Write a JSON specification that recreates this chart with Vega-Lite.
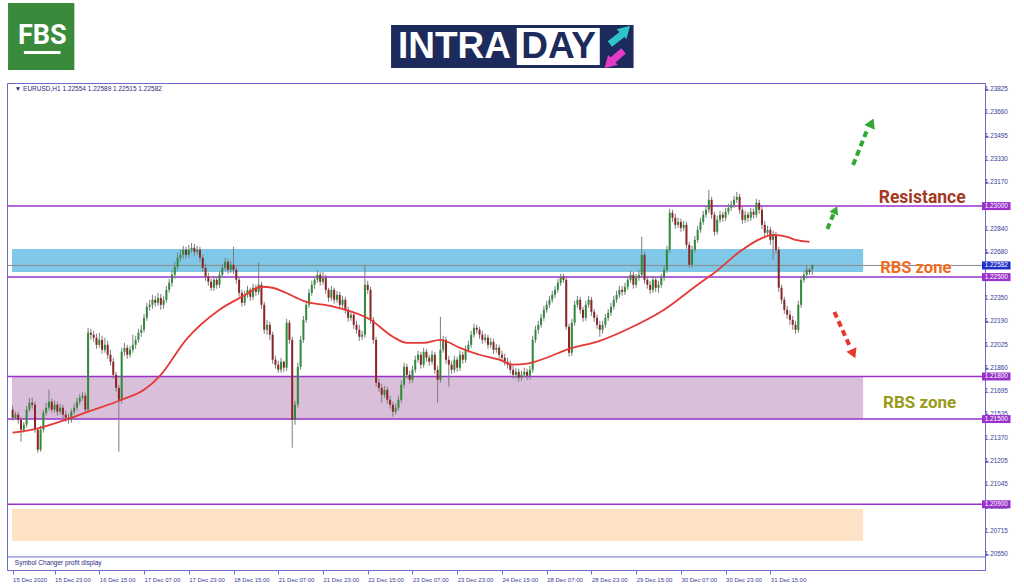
{
"$schema":"https://vega.github.io/schema/vega-lite/v6.json",
"width":978,"height":487,
"autosize":{"type":"none"},
"padding":{"left":7,"top":83,"right":39,"bottom":17},
"background":"#ffffff",
"config":{"view":{"stroke":"#6b6bd0","strokeWidth":1},"axis":{"grid":false}},
"datasets":{
"bars":[
{"i":1,"o":1.21566,"h":1.21594,"l":1.21488,"c":1.2151},
{"i":2,"o":1.2151,"h":1.21552,"l":1.21495,"c":1.21531},
{"i":3,"o":1.21531,"h":1.21552,"l":1.21467,"c":1.21495},
{"i":4,"o":1.21495,"h":1.21517,"l":1.2134,"c":1.21425},
{"i":5,"o":1.21425,"h":1.21481,"l":1.21404,"c":1.2146},
{"i":6,"o":1.2146,"h":1.21594,"l":1.21439,"c":1.21566},
{"i":7,"o":1.21566,"h":1.2165,"l":1.21552,"c":1.21615},
{"i":8,"o":1.21615,"h":1.2165,"l":1.21573,"c":1.21601},
{"i":9,"o":1.21601,"h":1.21622,"l":1.21404,"c":1.21425},
{"i":10,"o":1.21425,"h":1.21439,"l":1.21263,"c":1.21284},
{"i":11,"o":1.21284,"h":1.21453,"l":1.2127,"c":1.21425},
{"i":12,"o":1.21425,"h":1.21566,"l":1.21404,"c":1.21545},
{"i":13,"o":1.21545,"h":1.21615,"l":1.21524,"c":1.2158},
{"i":14,"o":1.2158,"h":1.21706,"l":1.21559,"c":1.21622},
{"i":15,"o":1.21622,"h":1.21643,"l":1.21545,"c":1.21566},
{"i":16,"o":1.21566,"h":1.21629,"l":1.21545,"c":1.21601},
{"i":17,"o":1.21601,"h":1.21622,"l":1.21524,"c":1.21552},
{"i":18,"o":1.21552,"h":1.21608,"l":1.21531,"c":1.2158},
{"i":19,"o":1.2158,"h":1.21601,"l":1.21503,"c":1.21531},
{"i":20,"o":1.21531,"h":1.21559,"l":1.21481,"c":1.2151},
{"i":21,"o":1.2151,"h":1.21538,"l":1.21467,"c":1.21495},
{"i":22,"o":1.21495,"h":1.21573,"l":1.21474,"c":1.21552},
{"i":23,"o":1.21552,"h":1.21608,"l":1.21531,"c":1.2158},
{"i":24,"o":1.2158,"h":1.2165,"l":1.21559,"c":1.21622},
{"i":25,"o":1.21622,"h":1.21678,"l":1.21601,"c":1.2165},
{"i":26,"o":1.2165,"h":1.21692,"l":1.21629,"c":1.21664},
{"i":27,"o":1.21664,"h":1.21685,"l":1.21545,"c":1.21566},
{"i":28,"o":1.21566,"h":1.22143,"l":1.21545,"c":1.22108},
{"i":29,"o":1.22108,"h":1.22136,"l":1.22058,"c":1.22094},
{"i":30,"o":1.22094,"h":1.22122,"l":1.22044,"c":1.22073},
{"i":31,"o":1.22073,"h":1.22101,"l":1.21995,"c":1.22023},
{"i":32,"o":1.22023,"h":1.22108,"l":1.22002,"c":1.22058},
{"i":33,"o":1.22058,"h":1.22087,"l":1.2196,"c":1.21988},
{"i":34,"o":1.21988,"h":1.22073,"l":1.21967,"c":1.22023},
{"i":35,"o":1.22023,"h":1.22051,"l":1.21925,"c":1.21953},
{"i":36,"o":1.21953,"h":1.21988,"l":1.21876,"c":1.21904},
{"i":37,"o":1.21904,"h":1.21932,"l":1.21784,"c":1.21812},
{"i":38,"o":1.21812,"h":1.21833,"l":1.21692,"c":1.2172},
{"i":39,"o":1.2172,"h":1.21741,"l":1.2127,"c":1.21636},
{"i":40,"o":1.21636,"h":1.22002,"l":1.21608,"c":1.21974},
{"i":41,"o":1.21974,"h":1.22037,"l":1.21946,"c":1.22002},
{"i":42,"o":1.22002,"h":1.22023,"l":1.21925,"c":1.21953},
{"i":43,"o":1.21953,"h":1.22016,"l":1.21932,"c":1.21988},
{"i":44,"o":1.21988,"h":1.22094,"l":1.21967,"c":1.22023},
{"i":45,"o":1.22023,"h":1.22087,"l":1.21995,"c":1.22058},
{"i":46,"o":1.22058,"h":1.22136,"l":1.22037,"c":1.22108},
{"i":47,"o":1.22108,"h":1.22164,"l":1.2208,"c":1.22129},
{"i":48,"o":1.22129,"h":1.22241,"l":1.22108,"c":1.22213},
{"i":49,"o":1.22213,"h":1.22319,"l":1.22192,"c":1.22291},
{"i":50,"o":1.22291,"h":1.2234,"l":1.22263,"c":1.22305},
{"i":51,"o":1.22305,"h":1.22375,"l":1.22277,"c":1.2234},
{"i":52,"o":1.2234,"h":1.22368,"l":1.22291,"c":1.22319},
{"i":53,"o":1.22319,"h":1.22389,"l":1.22298,"c":1.22354},
{"i":54,"o":1.22354,"h":1.22382,"l":1.2227,"c":1.22305},
{"i":55,"o":1.22305,"h":1.22368,"l":1.22277,"c":1.2234},
{"i":56,"o":1.2234,"h":1.22438,"l":1.22319,"c":1.2241},
{"i":57,"o":1.2241,"h":1.22488,"l":1.22389,"c":1.2246},
{"i":58,"o":1.2246,"h":1.22551,"l":1.22432,"c":1.22516},
{"i":59,"o":1.22516,"h":1.22608,"l":1.22488,"c":1.22572},
{"i":60,"o":1.22572,"h":1.22671,"l":1.22551,"c":1.22636},
{"i":61,"o":1.22636,"h":1.22692,"l":1.22608,"c":1.22657},
{"i":62,"o":1.22657,"h":1.2272,"l":1.22629,"c":1.22692},
{"i":63,"o":1.22692,"h":1.22713,"l":1.22629,"c":1.22657},
{"i":64,"o":1.22657,"h":1.22727,"l":1.22636,"c":1.22692},
{"i":65,"o":1.22692,"h":1.22741,"l":1.22671,"c":1.22706},
{"i":66,"o":1.22706,"h":1.22734,"l":1.2265,"c":1.22678},
{"i":67,"o":1.22678,"h":1.2272,"l":1.22657,"c":1.22692},
{"i":68,"o":1.22692,"h":1.22713,"l":1.22608,"c":1.22636},
{"i":69,"o":1.22636,"h":1.22657,"l":1.22537,"c":1.22565},
{"i":70,"o":1.22565,"h":1.22594,"l":1.22474,"c":1.22502},
{"i":71,"o":1.22502,"h":1.2253,"l":1.22439,"c":1.22467},
{"i":72,"o":1.22467,"h":1.22488,"l":1.22403,"c":1.22425},
{"i":73,"o":1.22425,"h":1.22509,"l":1.22403,"c":1.22481},
{"i":74,"o":1.22481,"h":1.22502,"l":1.22418,"c":1.22446},
{"i":75,"o":1.22446,"h":1.22544,"l":1.22425,"c":1.22516},
{"i":76,"o":1.22516,"h":1.22594,"l":1.22495,"c":1.22565},
{"i":77,"o":1.22565,"h":1.22636,"l":1.22544,"c":1.22608},
{"i":78,"o":1.22608,"h":1.22629,"l":1.22523,"c":1.22551},
{"i":79,"o":1.22551,"h":1.22615,"l":1.2253,"c":1.22587},
{"i":80,"o":1.22587,"h":1.22713,"l":1.22523,"c":1.22551},
{"i":81,"o":1.22551,"h":1.22572,"l":1.22453,"c":1.22481},
{"i":82,"o":1.22481,"h":1.22502,"l":1.22361,"c":1.22389},
{"i":83,"o":1.22389,"h":1.2241,"l":1.22291,"c":1.22319},
{"i":84,"o":1.22319,"h":1.22403,"l":1.22298,"c":1.22375},
{"i":85,"o":1.22375,"h":1.22438,"l":1.22354,"c":1.2241},
{"i":86,"o":1.2241,"h":1.22425,"l":1.22333,"c":1.22361},
{"i":87,"o":1.22361,"h":1.22453,"l":1.2234,"c":1.22425},
{"i":88,"o":1.22425,"h":1.22446,"l":1.22368,"c":1.22396},
{"i":89,"o":1.22396,"h":1.22601,"l":1.22375,"c":1.22446},
{"i":90,"o":1.22446,"h":1.22467,"l":1.22277,"c":1.22305},
{"i":91,"o":1.22305,"h":1.22326,"l":1.22101,"c":1.22129},
{"i":92,"o":1.22129,"h":1.22199,"l":1.22094,"c":1.22164},
{"i":93,"o":1.22164,"h":1.22185,"l":1.22058,"c":1.22094},
{"i":94,"o":1.22094,"h":1.22115,"l":1.2189,"c":1.21918},
{"i":95,"o":1.21918,"h":1.21946,"l":1.21855,"c":1.21883},
{"i":96,"o":1.21883,"h":1.21911,"l":1.21826,"c":1.21847},
{"i":97,"o":1.21847,"h":1.21932,"l":1.21826,"c":1.21904},
{"i":98,"o":1.21904,"h":1.21911,"l":1.21833,"c":1.21862},
{"i":99,"o":1.21862,"h":1.22206,"l":1.2184,"c":1.22178},
{"i":100,"o":1.22178,"h":1.22199,"l":1.2203,"c":1.22058},
{"i":101,"o":1.22058,"h":1.2208,"l":1.21298,"c":1.21495},
{"i":102,"o":1.21495,"h":1.21629,"l":1.2146,"c":1.21601},
{"i":103,"o":1.21601,"h":1.21897,"l":1.2158,"c":1.21868},
{"i":104,"o":1.21868,"h":1.22087,"l":1.21847,"c":1.22058},
{"i":105,"o":1.22058,"h":1.22227,"l":1.22037,"c":1.22199},
{"i":106,"o":1.22199,"h":1.22333,"l":1.22178,"c":1.22305},
{"i":107,"o":1.22305,"h":1.22417,"l":1.22284,"c":1.22389},
{"i":108,"o":1.22389,"h":1.22474,"l":1.22368,"c":1.22446},
{"i":109,"o":1.22446,"h":1.22509,"l":1.22418,"c":1.22481},
{"i":110,"o":1.22481,"h":1.22551,"l":1.2246,"c":1.22516},
{"i":111,"o":1.22516,"h":1.22537,"l":1.22439,"c":1.22467},
{"i":112,"o":1.22467,"h":1.22537,"l":1.22446,"c":1.22495},
{"i":113,"o":1.22495,"h":1.22516,"l":1.22382,"c":1.2241},
{"i":114,"o":1.2241,"h":1.22425,"l":1.22326,"c":1.22354},
{"i":115,"o":1.22354,"h":1.22438,"l":1.22333,"c":1.2241},
{"i":116,"o":1.2241,"h":1.22425,"l":1.22312,"c":1.2234},
{"i":117,"o":1.2234,"h":1.22403,"l":1.22319,"c":1.22375},
{"i":118,"o":1.22375,"h":1.22396,"l":1.22277,"c":1.22305},
{"i":119,"o":1.22305,"h":1.22368,"l":1.22284,"c":1.2234},
{"i":120,"o":1.2234,"h":1.22361,"l":1.22242,"c":1.2227},
{"i":121,"o":1.2227,"h":1.22291,"l":1.22185,"c":1.22213},
{"i":122,"o":1.22213,"h":1.22263,"l":1.22192,"c":1.22235},
{"i":123,"o":1.22235,"h":1.22256,"l":1.22136,"c":1.22164},
{"i":124,"o":1.22164,"h":1.22192,"l":1.22101,"c":1.22129},
{"i":125,"o":1.22129,"h":1.22164,"l":1.22051,"c":1.2208},
{"i":126,"o":1.2208,"h":1.22122,"l":1.22058,"c":1.22094},
{"i":127,"o":1.22094,"h":1.22587,"l":1.22073,"c":1.22446},
{"i":128,"o":1.22446,"h":1.22474,"l":1.22382,"c":1.2241},
{"i":129,"o":1.2241,"h":1.22431,"l":1.22171,"c":1.22199},
{"i":130,"o":1.22199,"h":1.2222,"l":1.2203,"c":1.22058},
{"i":131,"o":1.22058,"h":1.2208,"l":1.21728,"c":1.21756},
{"i":132,"o":1.21756,"h":1.21784,"l":1.21692,"c":1.2172},
{"i":133,"o":1.2172,"h":1.21748,"l":1.21615,"c":1.21671},
{"i":134,"o":1.21671,"h":1.21734,"l":1.2165,"c":1.21706},
{"i":135,"o":1.21706,"h":1.21727,"l":1.21608,"c":1.21636},
{"i":136,"o":1.21636,"h":1.21664,"l":1.21573,"c":1.21601},
{"i":137,"o":1.21601,"h":1.21622,"l":1.21517,"c":1.21552},
{"i":138,"o":1.21552,"h":1.21608,"l":1.21531,"c":1.2158},
{"i":139,"o":1.2158,"h":1.21664,"l":1.21559,"c":1.21636},
{"i":140,"o":1.21636,"h":1.2177,"l":1.21615,"c":1.21742},
{"i":141,"o":1.21742,"h":1.21897,"l":1.2172,"c":1.21868},
{"i":142,"o":1.21868,"h":1.2189,"l":1.21784,"c":1.21812},
{"i":143,"o":1.21812,"h":1.2184,"l":1.21749,"c":1.21777},
{"i":144,"o":1.21777,"h":1.21876,"l":1.21756,"c":1.21847},
{"i":145,"o":1.21847,"h":1.21946,"l":1.21826,"c":1.21918},
{"i":146,"o":1.21918,"h":1.21981,"l":1.21897,"c":1.21953},
{"i":147,"o":1.21953,"h":1.21974,"l":1.21855,"c":1.21883},
{"i":148,"o":1.21883,"h":1.22002,"l":1.21862,"c":1.21974},
{"i":149,"o":1.21974,"h":1.21995,"l":1.21904,"c":1.21932},
{"i":150,"o":1.21932,"h":1.21953,"l":1.21876,"c":1.21904},
{"i":151,"o":1.21904,"h":1.21981,"l":1.21883,"c":1.21953},
{"i":152,"o":1.21953,"h":1.21974,"l":1.21819,"c":1.21847},
{"i":153,"o":1.21847,"h":1.21876,"l":1.21615,"c":1.21777},
{"i":154,"o":1.21777,"h":1.2222,"l":1.21756,"c":1.21988},
{"i":155,"o":1.21988,"h":1.22087,"l":1.21967,"c":1.22058},
{"i":156,"o":1.22058,"h":1.2208,"l":1.2189,"c":1.21918},
{"i":157,"o":1.21918,"h":1.21946,"l":1.21728,"c":1.21883},
{"i":158,"o":1.21883,"h":1.21911,"l":1.21819,"c":1.21847},
{"i":159,"o":1.21847,"h":1.21946,"l":1.21826,"c":1.21918},
{"i":160,"o":1.21918,"h":1.21939,"l":1.21833,"c":1.21862},
{"i":161,"o":1.21862,"h":1.21981,"l":1.2184,"c":1.21953},
{"i":162,"o":1.21953,"h":1.21974,"l":1.2189,"c":1.21918},
{"i":163,"o":1.21918,"h":1.22016,"l":1.21897,"c":1.21988},
{"i":164,"o":1.21988,"h":1.22051,"l":1.21967,"c":1.22023},
{"i":165,"o":1.22023,"h":1.22122,"l":1.22002,"c":1.22094},
{"i":166,"o":1.22094,"h":1.22171,"l":1.22073,"c":1.22143},
{"i":167,"o":1.22143,"h":1.22164,"l":1.22101,"c":1.22129},
{"i":168,"o":1.22129,"h":1.2215,"l":1.22065,"c":1.22094},
{"i":169,"o":1.22094,"h":1.22122,"l":1.2203,"c":1.22058},
{"i":170,"o":1.22058,"h":1.22101,"l":1.22037,"c":1.22073},
{"i":171,"o":1.22073,"h":1.22094,"l":1.21995,"c":1.22023},
{"i":172,"o":1.22023,"h":1.22073,"l":1.22002,"c":1.22044},
{"i":173,"o":1.22044,"h":1.22065,"l":1.2196,"c":1.21988},
{"i":174,"o":1.21988,"h":1.2203,"l":1.21967,"c":1.22002},
{"i":175,"o":1.22002,"h":1.22023,"l":1.21925,"c":1.21953},
{"i":176,"o":1.21953,"h":1.21981,"l":1.21904,"c":1.21932},
{"i":177,"o":1.21932,"h":1.2196,"l":1.21876,"c":1.21904},
{"i":178,"o":1.21904,"h":1.21932,"l":1.21855,"c":1.21883},
{"i":179,"o":1.21883,"h":1.21911,"l":1.21819,"c":1.21847},
{"i":180,"o":1.21847,"h":1.21876,"l":1.21784,"c":1.21812},
{"i":181,"o":1.21812,"h":1.21862,"l":1.21784,"c":1.21833},
{"i":182,"o":1.21833,"h":1.21855,"l":1.21763,"c":1.21791},
{"i":183,"o":1.21791,"h":1.2184,"l":1.2177,"c":1.21812},
{"i":184,"o":1.21812,"h":1.21862,"l":1.21791,"c":1.21833},
{"i":185,"o":1.21833,"h":1.21855,"l":1.21777,"c":1.21805},
{"i":186,"o":1.21805,"h":1.21876,"l":1.21777,"c":1.21847},
{"i":187,"o":1.21847,"h":1.22087,"l":1.21826,"c":1.22058},
{"i":188,"o":1.22058,"h":1.22157,"l":1.22037,"c":1.22129},
{"i":189,"o":1.22129,"h":1.22192,"l":1.22101,"c":1.22164},
{"i":190,"o":1.22164,"h":1.22241,"l":1.22143,"c":1.22213},
{"i":191,"o":1.22213,"h":1.22298,"l":1.22192,"c":1.2227},
{"i":192,"o":1.2227,"h":1.22333,"l":1.22249,"c":1.22305},
{"i":193,"o":1.22305,"h":1.22368,"l":1.22284,"c":1.2234},
{"i":194,"o":1.2234,"h":1.22403,"l":1.22319,"c":1.22375},
{"i":195,"o":1.22375,"h":1.22438,"l":1.22354,"c":1.2241},
{"i":196,"o":1.2241,"h":1.22488,"l":1.22389,"c":1.2246},
{"i":197,"o":1.2246,"h":1.22523,"l":1.22439,"c":1.22502},
{"i":198,"o":1.22502,"h":1.22523,"l":1.2246,"c":1.22481},
{"i":199,"o":1.22481,"h":1.22502,"l":1.22129,"c":1.2215},
{"i":200,"o":1.2215,"h":1.22171,"l":1.21939,"c":1.21967},
{"i":201,"o":1.21967,"h":1.22206,"l":1.21946,"c":1.22178},
{"i":202,"o":1.22178,"h":1.22333,"l":1.22157,"c":1.22305},
{"i":203,"o":1.22305,"h":1.22368,"l":1.22284,"c":1.2234},
{"i":204,"o":1.2234,"h":1.22361,"l":1.22242,"c":1.2227},
{"i":205,"o":1.2227,"h":1.22291,"l":1.22185,"c":1.22213},
{"i":206,"o":1.22213,"h":1.22333,"l":1.22192,"c":1.22305},
{"i":207,"o":1.22305,"h":1.22368,"l":1.22284,"c":1.2234},
{"i":208,"o":1.2234,"h":1.22361,"l":1.22227,"c":1.22256},
{"i":209,"o":1.22256,"h":1.22277,"l":1.22185,"c":1.22213},
{"i":210,"o":1.22213,"h":1.22235,"l":1.22136,"c":1.22164},
{"i":211,"o":1.22164,"h":1.22192,"l":1.2208,"c":1.22129},
{"i":212,"o":1.22129,"h":1.22192,"l":1.22101,"c":1.22164},
{"i":213,"o":1.22164,"h":1.22241,"l":1.22143,"c":1.22213},
{"i":214,"o":1.22213,"h":1.22277,"l":1.22192,"c":1.22249},
{"i":215,"o":1.22249,"h":1.22319,"l":1.22227,"c":1.22291},
{"i":216,"o":1.22291,"h":1.22368,"l":1.2227,"c":1.2234},
{"i":217,"o":1.2234,"h":1.22403,"l":1.22319,"c":1.22375},
{"i":218,"o":1.22375,"h":1.22438,"l":1.22354,"c":1.2241},
{"i":219,"o":1.2241,"h":1.22438,"l":1.22368,"c":1.22396},
{"i":220,"o":1.22396,"h":1.2246,"l":1.22375,"c":1.22431},
{"i":221,"o":1.22431,"h":1.22509,"l":1.2241,"c":1.22481},
{"i":222,"o":1.22481,"h":1.22544,"l":1.2246,"c":1.22516},
{"i":223,"o":1.22516,"h":1.22537,"l":1.22418,"c":1.22446},
{"i":224,"o":1.22446,"h":1.22523,"l":1.22425,"c":1.22495},
{"i":225,"o":1.22495,"h":1.22551,"l":1.22474,"c":1.22516},
{"i":226,"o":1.22516,"h":1.22783,"l":1.22495,"c":1.22657},
{"i":227,"o":1.22657,"h":1.22678,"l":1.22453,"c":1.22481},
{"i":228,"o":1.22481,"h":1.22509,"l":1.22418,"c":1.22446},
{"i":229,"o":1.22446,"h":1.22474,"l":1.22382,"c":1.2241},
{"i":230,"o":1.2241,"h":1.22509,"l":1.22389,"c":1.22481},
{"i":231,"o":1.22481,"h":1.22502,"l":1.22396,"c":1.22425},
{"i":232,"o":1.22425,"h":1.22474,"l":1.22389,"c":1.22446},
{"i":233,"o":1.22446,"h":1.22523,"l":1.22425,"c":1.22495},
{"i":234,"o":1.22495,"h":1.22579,"l":1.22474,"c":1.22551},
{"i":235,"o":1.22551,"h":1.2272,"l":1.2253,"c":1.22692},
{"i":236,"o":1.22692,"h":1.22981,"l":1.22671,"c":1.22953},
{"i":237,"o":1.22953,"h":1.22974,"l":1.22889,"c":1.22918},
{"i":238,"o":1.22918,"h":1.22946,"l":1.2284,"c":1.22868},
{"i":239,"o":1.22868,"h":1.22918,"l":1.22847,"c":1.22889},
{"i":240,"o":1.22889,"h":1.22911,"l":1.22819,"c":1.22847},
{"i":241,"o":1.22847,"h":1.22896,"l":1.22826,"c":1.22868},
{"i":242,"o":1.22868,"h":1.22889,"l":1.22699,"c":1.22727},
{"i":243,"o":1.22727,"h":1.22748,"l":1.22565,"c":1.22587},
{"i":244,"o":1.22587,"h":1.2272,"l":1.22565,"c":1.22692},
{"i":245,"o":1.22692,"h":1.2279,"l":1.22671,"c":1.22762},
{"i":246,"o":1.22762,"h":1.22861,"l":1.22741,"c":1.22833},
{"i":247,"o":1.22833,"h":1.22918,"l":1.22812,"c":1.22889},
{"i":248,"o":1.22889,"h":1.22967,"l":1.22868,"c":1.22939},
{"i":249,"o":1.22939,"h":1.23002,"l":1.22918,"c":1.22974},
{"i":250,"o":1.22974,"h":1.23114,"l":1.22953,"c":1.23044},
{"i":251,"o":1.23044,"h":1.23065,"l":1.22911,"c":1.22939},
{"i":252,"o":1.22939,"h":1.2296,"l":1.22791,"c":1.22819},
{"i":253,"o":1.22819,"h":1.22932,"l":1.22798,"c":1.22903},
{"i":254,"o":1.22903,"h":1.22967,"l":1.22882,"c":1.22939},
{"i":255,"o":1.22939,"h":1.2296,"l":1.22889,"c":1.22918},
{"i":256,"o":1.22918,"h":1.22988,"l":1.22896,"c":1.2296},
{"i":257,"o":1.2296,"h":1.23016,"l":1.22939,"c":1.22988},
{"i":258,"o":1.22988,"h":1.23037,"l":1.22967,"c":1.23009},
{"i":259,"o":1.23009,"h":1.23072,"l":1.22988,"c":1.23044},
{"i":260,"o":1.23044,"h":1.231,"l":1.23023,"c":1.23065},
{"i":261,"o":1.23065,"h":1.23086,"l":1.22946,"c":1.22974},
{"i":262,"o":1.22974,"h":1.22995,"l":1.22875,"c":1.22903},
{"i":263,"o":1.22903,"h":1.22967,"l":1.22882,"c":1.22939},
{"i":264,"o":1.22939,"h":1.2296,"l":1.22889,"c":1.22918},
{"i":265,"o":1.22918,"h":1.22988,"l":1.22896,"c":1.2296},
{"i":266,"o":1.2296,"h":1.22981,"l":1.22911,"c":1.22939},
{"i":267,"o":1.22939,"h":1.23051,"l":1.22918,"c":1.23023},
{"i":268,"o":1.23023,"h":1.23044,"l":1.22946,"c":1.22974},
{"i":269,"o":1.22974,"h":1.22995,"l":1.2284,"c":1.22868},
{"i":270,"o":1.22868,"h":1.22896,"l":1.22784,"c":1.22812},
{"i":271,"o":1.22812,"h":1.22861,"l":1.22791,"c":1.22833},
{"i":272,"o":1.22833,"h":1.22854,"l":1.22727,"c":1.22762},
{"i":273,"o":1.22762,"h":1.22826,"l":1.22622,"c":1.22798},
{"i":274,"o":1.22798,"h":1.22819,"l":1.22664,"c":1.22692},
{"i":275,"o":1.22692,"h":1.22713,"l":1.22396,"c":1.22425},
{"i":276,"o":1.22425,"h":1.22446,"l":1.22312,"c":1.2234},
{"i":277,"o":1.2234,"h":1.22361,"l":1.22242,"c":1.2227},
{"i":278,"o":1.2227,"h":1.22298,"l":1.22206,"c":1.22235},
{"i":279,"o":1.22235,"h":1.22263,"l":1.22164,"c":1.22199},
{"i":280,"o":1.22199,"h":1.22227,"l":1.22129,"c":1.22164},
{"i":281,"o":1.22164,"h":1.22192,"l":1.22101,"c":1.22129},
{"i":282,"o":1.22129,"h":1.22333,"l":1.22108,"c":1.22305},
{"i":283,"o":1.22305,"h":1.22509,"l":1.22284,"c":1.22481},
{"i":284,"o":1.22481,"h":1.22544,"l":1.2246,"c":1.22516},
{"i":285,"o":1.22516,"h":1.22579,"l":1.22488,"c":1.22551},
{"i":286,"o":1.22551,"h":1.22565,"l":1.22516,"c":1.22537},
{"i":287,"o":1.22554,"h":1.22589,"l":1.22515,"c":1.22582}
],
"ma":[{"i":1,"v":1.21404},{"i":8,"v":1.21425},{"i":20,"v":1.21495},{"i":28,"v":1.21552},{"i":40,"v":1.21636},{"i":48,"v":1.21706},{"i":54,"v":1.21812},{"i":63,"v":1.22058},{"i":75,"v":1.2227},{"i":83,"v":1.22361},{"i":90,"v":1.22432},{"i":94,"v":1.22425},{"i":98,"v":1.22396},{"i":105,"v":1.22333},{"i":116,"v":1.22291},{"i":129,"v":1.22199},{"i":137,"v":1.2208},{"i":142,"v":1.22037},{"i":148,"v":1.22037},{"i":154,"v":1.22058},{"i":161,"v":1.22002},{"i":168,"v":1.21953},{"i":175,"v":1.21918},{"i":180,"v":1.21883},{"i":185,"v":1.2189},{"i":192,"v":1.21932},{"i":199,"v":1.21988},{"i":211,"v":1.22051},{"i":222,"v":1.22143},{"i":234,"v":1.2227},{"i":246,"v":1.22446},{"i":252,"v":1.2253},{"i":261,"v":1.22678},{"i":267,"v":1.22755},{"i":273,"v":1.22798},{"i":278,"v":1.22783},{"i":281,"v":1.22762},{"i":286,"v":1.22748}],
"levels":[{"p":1.23},{"p":1.225},{"p":1.218},{"p":1.215},{"p":1.209}],
"yl":[{"v":1.23825},{"v":1.2366},{"v":1.23495},{"v":1.2333},{"v":1.2317},{"v":1.2284},{"v":1.2268},{"v":1.2235},{"v":1.2219},{"v":1.22025},{"v":1.2186},{"v":1.21695},{"v":1.21535},{"v":1.2137},{"v":1.21205},{"v":1.21045},{"v":1.2088},{"v":1.20715},{"v":1.2055}],
"tags":[{"p":1.23,"t":"1.23000","k":"l"},{"p":1.225,"t":"1.22500","k":"l"},{"p":1.218,"t":"1.21800","k":"l"},{"p":1.215,"t":"1.21500","k":"l"},{"p":1.209,"t":"1.20900","k":"l"},{"p":1.22582,"t":"1.22582","k":"c"}]
},
"layer":[
{"data":{"values":[{}]},"mark":{"type":"rect","color":"#fde2c6"},
 "encoding":{
  "x":{"datum":0.78,"type":"quantitative","scale":{"domain":[0.78,346.98],"nice":false,"zero":false},
   "axis":{"title":null,"orient":"bottom","values":[1,16,32,48,64,80,96,112,128,144,160,176,192,208,224,240,256,272],
   "labelExpr":"['15 Dec 2020','15 Dec 23:00','16 Dec 15:00','17 Dec 07:00','17 Dec 23:00','18 Dec 15:00','21 Dec 07:00','21 Dec 23:00','22 Dec 15:00','23 Dec 07:00','23 Dec 23:00','24 Dec 15:00','28 Dec 07:00','28 Dec 23:00','29 Dec 15:00','30 Dec 07:00','30 Dec 23:00','31 Dec 15:00'][floor(datum.value/16)]",
   "labelAlign":"left","labelBaseline":"top","labelPadding":2,"labelFont":"Liberation Sans","labelFontSize":6,"labelColor":"#3c3c96","tickColor":"#6b6bd0","tickSize":4,"domainColor":"#6b6bd0","labelOverlap":false,"labelFlush":false,"labelBound":false,"grid":false}},
  "x2":{"datum":305.2},
  "y":{"datum":1.20867,"type":"quantitative","scale":{"domain":[1.20437,1.23867],"nice":false,"zero":false},
   "axis":{"title":null,"orient":"right","values":[1.23825,1.2366,1.23495,1.2333,1.2317,1.2284,1.2268,1.2235,1.2219,1.22025,1.2186,1.21695,1.21535,1.2137,1.21205,1.21045,1.2088,1.20715,1.2055],
   "labels":false,"tickColor":"#6b6bd0","tickSize":3,"domainColor":"#6b6bd0","grid":false}},
  "y2":{"datum":1.20642}}},
{"data":{"values":[{}]},"mark":{"type":"rect","color":"#d9bfd9"},
 "encoding":{"x":{"datum":0.78,"type":"quantitative"},"x2":{"datum":305.2},"y":{"datum":1.218,"type":"quantitative"},"y2":{"datum":1.215}}},
{"data":{"values":[{}]},"mark":{"type":"rect","color":"#80c8e8"},
 "encoding":{"x":{"datum":0.78,"type":"quantitative"},"x2":{"datum":305.2},"y":{"datum":1.22698,"type":"quantitative"},"y2":{"datum":1.22536}}},
{"data":{"values":[{}]},"mark":{"type":"rule","color":"#8c8c8c","strokeWidth":1},
 "encoding":{"y":{"datum":1.22582,"type":"quantitative"}}},
{"data":{"name":"levels"},"mark":{"type":"rule","color":"#9932cc","strokeWidth":1.5},
 "encoding":{"y":{"field":"p","type":"quantitative","title":null}}},
{"data":{"values":[{}]},"mark":{"type":"rule","color":"#6b6bd0","strokeWidth":1},
 "encoding":{"y":{"datum":1.20529,"type":"quantitative"}}},
{"data":{"name":"bars"},"mark":{"type":"rule","color":"#7d7d7d","strokeWidth":1},
 "encoding":{"x":{"field":"i","type":"quantitative","title":null},"y":{"field":"l","type":"quantitative","title":null},"y2":{"field":"h"}}},
{"data":{"name":"bars"},"mark":{"type":"bar","width":2},
 "encoding":{"x":{"field":"i","type":"quantitative","title":null},"y":{"field":"o","type":"quantitative","title":null},"y2":{"field":"c"},
  "color":{"condition":{"test":"datum.c >= datum.o","value":"#2e8b3a"},"value":"#8b2525"}}},
{"data":{"name":"ma"},"mark":{"type":"line","color":"#e53935","strokeWidth":1.8,"interpolate":"monotone"},
 "encoding":{"x":{"field":"i","type":"quantitative","title":null},"y":{"field":"v","type":"quantitative","title":null}}},
{"data":{"values":[{}]},"mark":{"type":"text","text":"Resistance","font":"Roboto","fontWeight":"bold","fontSize":17.5,"color":"#a33a1f","align":"center","baseline":"middle"},
 "encoding":{"x":{"datum":326.3,"type":"quantitative"},"y":{"datum":1.23057,"type":"quantitative"}}},
{"data":{"values":[{}]},"mark":{"type":"text","text":"RBS zone","font":"Roboto","fontWeight":"bold","fontSize":16.5,"color":"#f26b21","align":"center","baseline":"middle"},
 "encoding":{"x":{"datum":324.0,"type":"quantitative"},"y":{"datum":1.22564,"type":"quantitative"}}},
{"data":{"values":[{}]},"mark":{"type":"text","text":"RBS zone","font":"Roboto","fontWeight":"bold","fontSize":17,"color":"#9a9a1a","align":"center","baseline":"middle"},
 "encoding":{"x":{"datum":325.4,"type":"quantitative"},"y":{"datum":1.21613,"type":"quantitative"}}},
{"data":{"values":[{}]},"mark":{"type":"rule","color":"#32a834","strokeWidth":4,"strokeDash":[6,4]},
 "encoding":{"x":{"datum":301.6,"type":"quantitative"},"x2":{"datum":306.9},"y":{"datum":1.2329,"type":"quantitative"},"y2":{"datum":1.2355}}},
{"data":{"values":[{}]},"mark":{"type":"point","shape":"triangle-up","filled":true,"color":"#32a834","size":130,"angle":24,"opacity":1},
 "encoding":{"x":{"datum":308.2,"type":"quantitative"},"y":{"datum":1.23586,"type":"quantitative"}}},
{"data":{"values":[{}]},"mark":{"type":"rule","color":"#32a834","strokeWidth":4,"strokeDash":[6,4]},
 "encoding":{"x":{"datum":292.4,"type":"quantitative"},"x2":{"datum":294.6},"y":{"datum":1.22839,"type":"quantitative"},"y2":{"datum":1.22945}}},
{"data":{"values":[{}]},"mark":{"type":"point","shape":"triangle-up","filled":true,"color":"#32a834","size":90,"angle":24,"opacity":1},
 "encoding":{"x":{"datum":295.3,"type":"quantitative"},"y":{"datum":1.22973,"type":"quantitative"}}},
{"data":{"values":[{}]},"mark":{"type":"rule","color":"#e8372c","strokeWidth":4,"strokeDash":[6,4]},
 "encoding":{"x":{"datum":294.9,"type":"quantitative"},"x2":{"datum":300.2},"y":{"datum":1.22254,"type":"quantitative"},"y2":{"datum":1.22022}}},
{"data":{"values":[{}]},"mark":{"type":"point","shape":"triangle-down","filled":true,"color":"#e8372c","size":120,"angle":336,"opacity":1},
 "encoding":{"x":{"datum":301.7,"type":"quantitative"},"y":{"datum":1.21959,"type":"quantitative"}}},
{"data":{"name":"yl"},"mark":{"type":"text","clip":false,"align":"left","baseline":"middle","font":"Liberation Sans","fontSize":6.4,"color":"#3c3c96"},
 "encoding":{"x":{"datum":348.7,"type":"quantitative"},"y":{"field":"v","type":"quantitative","title":null},"text":{"field":"v","type":"quantitative","format":".5f"}}},
{"data":{"name":"tags"},"mark":{"type":"rule","strokeWidth":8,"clip":false,"strokeCap":"butt"},
 "encoding":{"x":{"datum":347.7,"type":"quantitative"},"x2":{"datum":357.9},"y":{"field":"p","type":"quantitative","title":null},
  "color":{"condition":{"test":"datum.k == 'c'","value":"#1f2fc8"},"value":"#9932cc"}}},
{"data":{"name":"tags"},"mark":{"type":"text","clip":false,"color":"#ffffff","font":"Liberation Sans","fontSize":6.4,"align":"center","baseline":"middle"},
 "encoding":{"x":{"datum":352.8,"type":"quantitative"},"y":{"field":"p","type":"quantitative","title":null},"text":{"field":"t"}}},
{"data":{"values":[{}]},"mark":{"type":"text","text":"▼ EURUSD,H1  1.22554 1.22589 1.22515 1.22582","font":"Liberation Sans","fontSize":6.5,"color":"#2a2a80","align":"left","baseline":"middle"},
 "encoding":{"x":{"datum":1.8,"type":"quantitative"},"y":{"datum":1.23825,"type":"quantitative"}}},
{"data":{"values":[{}]},"mark":{"type":"text","text":"Symbol Changer profit display","font":"Liberation Sans","fontSize":6.5,"color":"#2a2a80","align":"left","baseline":"middle"},
 "encoding":{"x":{"datum":1.8,"type":"quantitative"},"y":{"datum":1.204865,"type":"quantitative"}}},
{"data":{"values":[{}]},"mark":{"type":"rect","color":"#3a8a3c","clip":false},
 "encoding":{"x":{"datum":-0.64,"type":"quantitative"},"x2":{"datum":23.08},"y":{"datum":1.24431,"type":"quantitative"},"y2":{"datum":1.23959}}},
{"data":{"values":[{}]},"mark":{"type":"text","text":"FBS","clip":false,"font":"Roboto","fontWeight":"bold","fontSize":27,"color":"#ffffff","align":"center","baseline":"middle"},
 "encoding":{"x":{"datum":11.6,"type":"quantitative"},"y":{"datum":1.24198,"type":"quantitative"}}},
{"data":{"values":[{}]},"mark":{"type":"rect","color":"#ffffff","clip":false},
 "encoding":{"x":{"datum":5.03,"type":"quantitative"},"x2":{"datum":18.12},"y":{"datum":1.24093,"type":"quantitative"},"y2":{"datum":1.24072}}},
{"data":{"values":[{}]},"mark":{"type":"rect","color":"#1c2a5c","clip":false},
 "encoding":{"x":{"datum":136.35,"type":"quantitative"},"x2":{"datum":223.08},"y":{"datum":1.24276,"type":"quantitative"},"y2":{"datum":1.23973}}},
{"data":{"values":[{}]},"mark":{"type":"rect","color":"#ffffff","clip":false},
 "encoding":{"x":{"datum":181.3,"type":"quantitative"},"x2":{"datum":211.0},"y":{"datum":1.24255,"type":"quantitative"},"y2":{"datum":1.23994}}},
{"data":{"values":[{}]},"mark":{"type":"text","text":"INTRA","clip":false,"font":"Liberation Sans","fontWeight":"bold","fontSize":37,"color":"#ffffff","align":"center","baseline":"middle"},
 "encoding":{"x":{"datum":159.0,"type":"quantitative"},"y":{"datum":1.24124,"type":"quantitative"}}},
{"data":{"values":[{}]},"mark":{"type":"text","text":"DAY","clip":false,"font":"Liberation Sans","fontWeight":"bold","fontSize":37,"color":"#1c2a5c","align":"center","baseline":"middle"},
 "encoding":{"x":{"datum":196.3,"type":"quantitative"},"y":{"datum":1.24124,"type":"quantitative"}}},
{"data":{"values":[{}]},"mark":{"type":"rule","color":"#2ec4c8","strokeWidth":7,"clip":false},
 "encoding":{"x":{"datum":214.6,"type":"quantitative"},"x2":{"datum":219.2},"y":{"datum":1.24142,"type":"quantitative"},"y2":{"datum":1.24212}}},
{"data":{"values":[{}]},"mark":{"type":"point","shape":"triangle-up","filled":true,"opacity":1,"color":"#2ec4c8","size":190,"angle":45,"clip":false},
 "encoding":{"x":{"datum":220.3,"type":"quantitative"},"y":{"datum":1.24241,"type":"quantitative"}}},
{"data":{"values":[{}]},"mark":{"type":"rule","color":"#e43cc8","strokeWidth":7,"clip":false},
 "encoding":{"x":{"datum":219.5,"type":"quantitative"},"x2":{"datum":215.3},"y":{"datum":1.24093,"type":"quantitative"},"y2":{"datum":1.24022}}},
{"data":{"values":[{}]},"mark":{"type":"point","shape":"triangle-down","filled":true,"opacity":1,"color":"#e43cc8","size":190,"angle":45,"clip":false},
 "encoding":{"x":{"datum":214.2,"type":"quantitative"},"y":{"datum":1.24001,"type":"quantitative"}}}
]
}
